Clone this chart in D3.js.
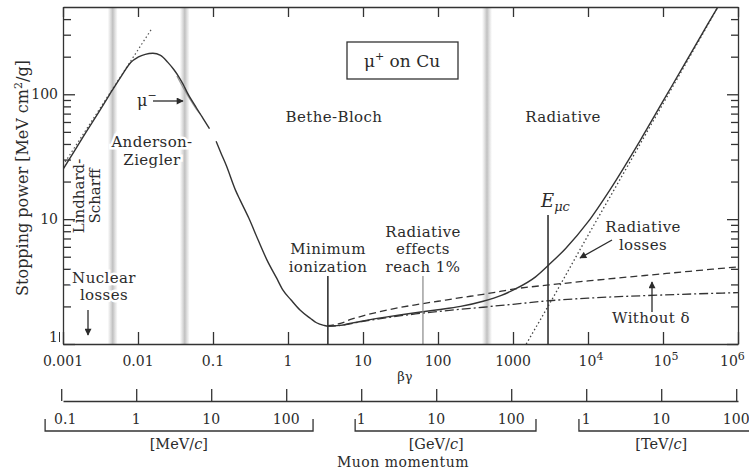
<!DOCTYPE html>
<html><head><meta charset="utf-8">
<script src="https://cdn.jsdelivr.net/npm/d3@7"></script>
<style>
body{margin:0;background:#fff;}
svg text{font-family:"DejaVu Serif",serif;fill:#2b2b2b;}
</style></head><body>
<svg id="c" width="749" height="471"></svg>
<script>
// ---------- data ----------
const bgDecades = [1e-3,1e-2,1e-1,1,10,100,1000,1e4,1e5,1e6];
const bgTickLabels = [["0.001"],["0.01"],["0.1"],["1"],["10"],["100"],["1000"],["10","4"],["10","5"],["10","6"]];
const yMajor = [1,10,100];
const yTickLabels = ["1","10","100"];
const yMinor = [2,3,4,5,6,7,8,9,20,30,40,50,60,70,80,90,200,300,400];
const momentumTicksMeV = [0.1,1,10,100,1e3,1e4,1e5,1e6,1e7,1e8];
const momentumTickLabels = ["0.1","1","10","100","1","10","100","1","10","100"];
const unitNames = ["MeV","GeV","TeV"];
const unitRangesMeV = [[0.061,228],[830,2.14e5],[8e5,5e9]];
const unitLabelAtMeV = [3.7,1e4,1e7];
const muonMassMeV = 105.66;

// mu+ on Cu total stopping power [MeV cm2/g] vs beta*gamma
const muPlusLow = [[0.001,25],[0.0015,37],[0.002,49],[0.003,72],[0.0042,100],[0.006,140],[0.008,180],[0.01,198],[0.0125,209],[0.0158,213],[0.02,205],[0.025,180],[0.03,158],[0.035,138],[0.04,120],[0.045,104],[0.06,78],[0.075,63],[0.09,53]];
const muPlusHigh = [[0.11,42],[0.13,33],[0.15,27],[0.2,17],[0.23,14.2],[0.3,10.2],[0.4,6.8],[0.525,4.7],[0.7,3.4],[0.857,2.7],[1.1,2.25],[1.445,1.87],[2,1.6],[2.4,1.48],[3,1.41],[3.4,1.39],[5,1.41],[7,1.47],[10,1.53],[20,1.64],[50,1.78],[100,1.88],[200,2.0],[400,2.2],[700,2.45],[1000,2.7],[2000,3.45],[3000,4.3],[5000,5.8],[1e4,9.5],[2e4,17.5],[5e4,43],[1e5,88],[2e5,180],[4e5,370],[5.6e5,520]];
const muMinus = [[0.033,140],[0.04,113],[0.05,90],[0.06,76],[0.068,69]];
const lindhardScharff = [[0.001,27],[0.015,330]];
const ionWithoutDelta = [[3.3,1.40],[5,1.46],[7,1.58],[10,1.68],[20,1.86],[50,2.06],[100,2.2],[200,2.35],[400,2.5],[700,2.65],[1000,2.75],[3000,2.97],[1e4,3.2],[1e5,3.65],[1e6,4.15]];
const ionDashDot = [[3.3,1.39],[5,1.41],[10,1.52],[20,1.62],[50,1.74],[100,1.82],[200,1.9],[400,1.97],[700,2.04],[1000,2.08],[3000,2.22],[1e4,2.33],[1e5,2.47],[1e6,2.58]];
const radiativeLoss = [[1500,1],[3000,2.05],[1e4,7.4],[3e4,23.5],[1e5,84],[3e5,268],[5.4e5,500]];
const bandCenters = [0.0046,0.042,450];
const markerLines = [{bg:3.4,top:3.5,dark:true},{bg:63,top:3.5,dark:false},{bg:2930,top:10.8,dark:true}];

// ---------- setup ----------
const svg = d3.select("#c");
const L=63,R=738,T=7,B=344;
const x = d3.scaleLog().domain([1e-3,1e6]).range([L,R]);
const y = d3.scaleLog().domain([1,500]).range([B,T]);
const xp = d3.scaleLog().domain([1e-3*muonMassMeV,1e6*muonMassMeV]).range([L,R]);
const ink="#2b2b2b";

const defs = svg.append("defs");
const grad = defs.append("linearGradient").attr("id","band").attr("x1","0").attr("x2","1").attr("y1","0").attr("y2","0");
grad.append("stop").attr("offset","0").attr("stop-color","#c8c8c8").attr("stop-opacity",0);
grad.append("stop").attr("offset","0.5").attr("stop-color","#c0c0c0").attr("stop-opacity",1);
grad.append("stop").attr("offset","1").attr("stop-color","#c8c8c8").attr("stop-opacity",0);
defs.append("clipPath").attr("id","clip").append("rect").attr("x",L).attr("y",T).attr("width",R-L).attr("height",B-T);
defs.append("marker").attr("id","arr").attr("viewBox","0 0 10 10").attr("refX",9).attr("refY",5)
  .attr("markerWidth",9).attr("markerHeight",7).attr("markerUnits","userSpaceOnUse").attr("orient","auto")
  .append("path").attr("d","M0,0L10,5L0,10z").attr("fill",ink);

// bands
svg.append("g").selectAll("rect").data(bandCenters).join("rect")
  .attr("x",d=>x(d)-5).attr("width",10).attr("y",T).attr("height",B-T).attr("fill","url(#band)");

// plot lines
const line = d3.line().x(d=>x(d[0])).y(d=>y(d[1])).curve(d3.curveMonotoneX);
const pg = svg.append("g").attr("clip-path","url(#clip)");
pg.append("path").datum(lindhardScharff).attr("d",line).attr("fill","none").attr("stroke","#555").attr("stroke-width",1.2).attr("stroke-dasharray","1.5,2.5");
pg.append("path").datum(radiativeLoss).attr("d",line).attr("fill","none").attr("stroke","#444").attr("stroke-width",1.3).attr("stroke-dasharray","1.5,2.5");
pg.append("path").datum(ionWithoutDelta).attr("d",line).attr("fill","none").attr("stroke","#333").attr("stroke-width",1.3).attr("stroke-dasharray","7,4");
pg.append("path").datum(ionDashDot).attr("d",line).attr("fill","none").attr("stroke","#333").attr("stroke-width",1.3).attr("stroke-dasharray","9,3,2,3");
pg.append("path").datum(muMinus).attr("d",line).attr("fill","none").attr("stroke","#999").attr("stroke-width",1.2);
pg.append("path").datum(muPlusLow).attr("d",line).attr("fill","none").attr("stroke","#333").attr("stroke-width",1.4);
pg.append("path").datum(muPlusHigh).attr("d",line).attr("fill","none").attr("stroke","#333").attr("stroke-width",1.4);

// marker vertical lines
svg.append("g").selectAll("line").data(markerLines).join("line")
  .attr("x1",d=>x(d.bg)).attr("x2",d=>x(d.bg)).attr("y1",y(1)).attr("y2",d=>y(d.top))
  .attr("stroke",d=>d.dark?"#333":"#888").attr("stroke-width",d=>d.dark?1.6:1.2);

// axes
function styleAxis(g){g.selectAll("path,line").attr("stroke","#333").attr("stroke-width",1.3);g.selectAll("text").remove();}
svg.append("g").attr("transform",`translate(0,${B})`).call(d3.axisBottom(x).tickValues(bgDecades).tickSize(-12).tickSizeOuter(0)).call(styleAxis);
svg.append("g").attr("transform",`translate(0,${T})`).call(d3.axisTop(x).tickValues(bgDecades).tickSize(-10).tickSizeOuter(0)).call(styleAxis);
svg.append("g").attr("transform",`translate(${L},0)`).call(d3.axisLeft(y).tickValues(yMajor).tickSize(-12).tickSizeOuter(0)).call(styleAxis);
svg.append("g").attr("transform",`translate(${L},0)`).call(d3.axisLeft(y).tickValues(yMinor).tickSize(-8).tickSizeOuter(0)).call(styleAxis).select(".domain").remove();
svg.append("g").attr("transform",`translate(${R},0)`).call(d3.axisRight(y).tickValues(yMajor).tickSize(-11).tickSizeOuter(0)).call(styleAxis);
svg.append("g").attr("transform",`translate(${R},0)`).call(d3.axisRight(y).tickValues(yMinor).tickSize(-7).tickSizeOuter(0)).call(styleAxis).select(".domain").remove();

// x tick labels
const xl = svg.append("g").attr("font-size",14).attr("text-anchor","middle");
bgDecades.forEach((v,i)=>{
  const last = i===bgDecades.length-1;
  const t = xl.append("text").attr("x",last?720:x(v)+(bgTickLabels[i].length>1?3:0)).attr("y",366).attr("text-anchor",last?"start":"middle");
  t.append("tspan").text(bgTickLabels[i][0]);
  if(bgTickLabels[i].length>1) t.append("tspan").attr("dy",-6).attr("font-size",11).text(bgTickLabels[i][1]);
});
// y tick labels
yMajor.forEach((v,i)=>{
  svg.append("text").attr("x",58).attr("y",y(v)+(v===1?-2:5)).attr("text-anchor","end").attr("font-size",14).text(yTickLabels[i]);
});
svg.append("line").attr("x1",59.5).attr("x2",59.5).attr("y1",332).attr("y2",342).attr("stroke","#333").attr("stroke-width",1);

svg.append("text").attr("x",405).attr("y",381).attr("text-anchor","middle").attr("font-size",13).text("βγ");

// momentum axis
svg.append("g").attr("transform","translate(0,401)").call(d3.axisTop(xp).tickValues(momentumTicksMeV).tickSize(12).tickSizeOuter(0)).call(styleAxis);
const ml = svg.append("g").attr("font-size",14).attr("text-anchor","middle");
momentumTicksMeV.forEach((v,i)=>{ml.append("text").attr("x",xp(v)+(i===0?4:0)).attr("y",424).text(momentumTickLabels[i]);});
unitRangesMeV.forEach((r,i)=>{
  const x1=xp(r[0]), x2=Math.min(xp(r[1]),760);
  svg.append("path").attr("d",`M${x1},419V431H${x2}V419`).attr("fill","none").attr("stroke","#333").attr("stroke-width",1.3);
  const t = svg.append("text").attr("x",xp(unitLabelAtMeV[i])).attr("y",449).attr("text-anchor","middle").attr("font-size",14.5);
  t.append("tspan").text("["+unitNames[i]+"/");
  t.append("tspan").attr("font-style","italic").text("c");
  t.append("tspan").text("]");
});
svg.append("text").attr("x",403).attr("y",467).attr("text-anchor","middle").attr("font-size",14).attr("letter-spacing",0.5).text("Muon momentum");

// y axis title
const yt = svg.append("text").attr("transform","translate(28,178) rotate(-90)").attr("text-anchor","middle").attr("font-size",16);
yt.append("tspan").text("Stopping power [MeV cm");
yt.append("tspan").attr("dy",-6).attr("font-size",11).text("2");
yt.append("tspan").attr("dy",6).text("/g]");

// annotations
const ann = svg.append("g").attr("font-size",15).attr("letter-spacing",0.4).attr("text-anchor","middle");
function txt(s,xx,yy,opt={}){const t=ann.append("text").attr("x",xx).attr("y",yy).text(s);if(opt.halo)t.attr("stroke","#fff").attr("stroke-width",5).attr("paint-order","stroke");if(opt.size)t.attr("font-size",opt.size);return t;}
txt("Bethe-Bloch",334,122);
txt("Radiative",563,122);
txt("Anderson-",152,147,{halo:true});
txt("Ziegler",152,165,{halo:true});
txt("Minimum",328,254);
txt("ionization",328,272);
txt("Radiative",423,236.5);
txt("effects",423,254.2);
txt("reach 1%",423,272);
txt("Radiative",643,232);
txt("losses",643,250);
txt("Without δ",651,323);
txt("Nuclear",104,282.5,{halo:true});
txt("losses",104,300.2,{halo:true});
svg.append("text").attr("transform","translate(84,196) rotate(-90)").attr("text-anchor","middle").attr("font-size",15).text("Lindhard-");
svg.append("text").attr("transform","translate(100,196) rotate(-90)").attr("text-anchor","middle").attr("font-size",15).text("Scharff");
// mu-
const mm = svg.append("text").attr("x",137).attr("y",106).attr("font-size",16);
mm.append("tspan").text("μ");
mm.append("tspan").attr("dy",-7).attr("font-size",11).text("−");
// E_mu c
const ec = svg.append("text").attr("x",541).attr("y",207).attr("font-size",18).attr("font-style","italic");
ec.append("tspan").text("E");
ec.append("tspan").attr("dy",4).attr("font-size",13).text("μc");
// box
svg.append("rect").attr("x",347).attr("y",42).attr("width",111).attr("height",37).attr("fill","#fff").attr("stroke","#333").attr("stroke-width",1.3);
const bt = svg.append("text").attr("x",402).attr("y",67).attr("text-anchor","middle").attr("font-size",17);
bt.append("tspan").text("μ");
bt.append("tspan").attr("dy",-7).attr("font-size",11).text("+");
bt.append("tspan").attr("dy",7).text(" on Cu");

// arrows
const arrows = [[153,101,183,101],[612,240,580,258],[652,312,652,282],[88,310,88,335]];
svg.append("g").selectAll("line").data(arrows).join("line")
  .attr("x1",d=>d[0]).attr("y1",d=>d[1]).attr("x2",d=>d[2]).attr("y2",d=>d[3])
  .attr("stroke",ink).attr("stroke-width",1.3).attr("marker-end","url(#arr)");
</script></body></html>
